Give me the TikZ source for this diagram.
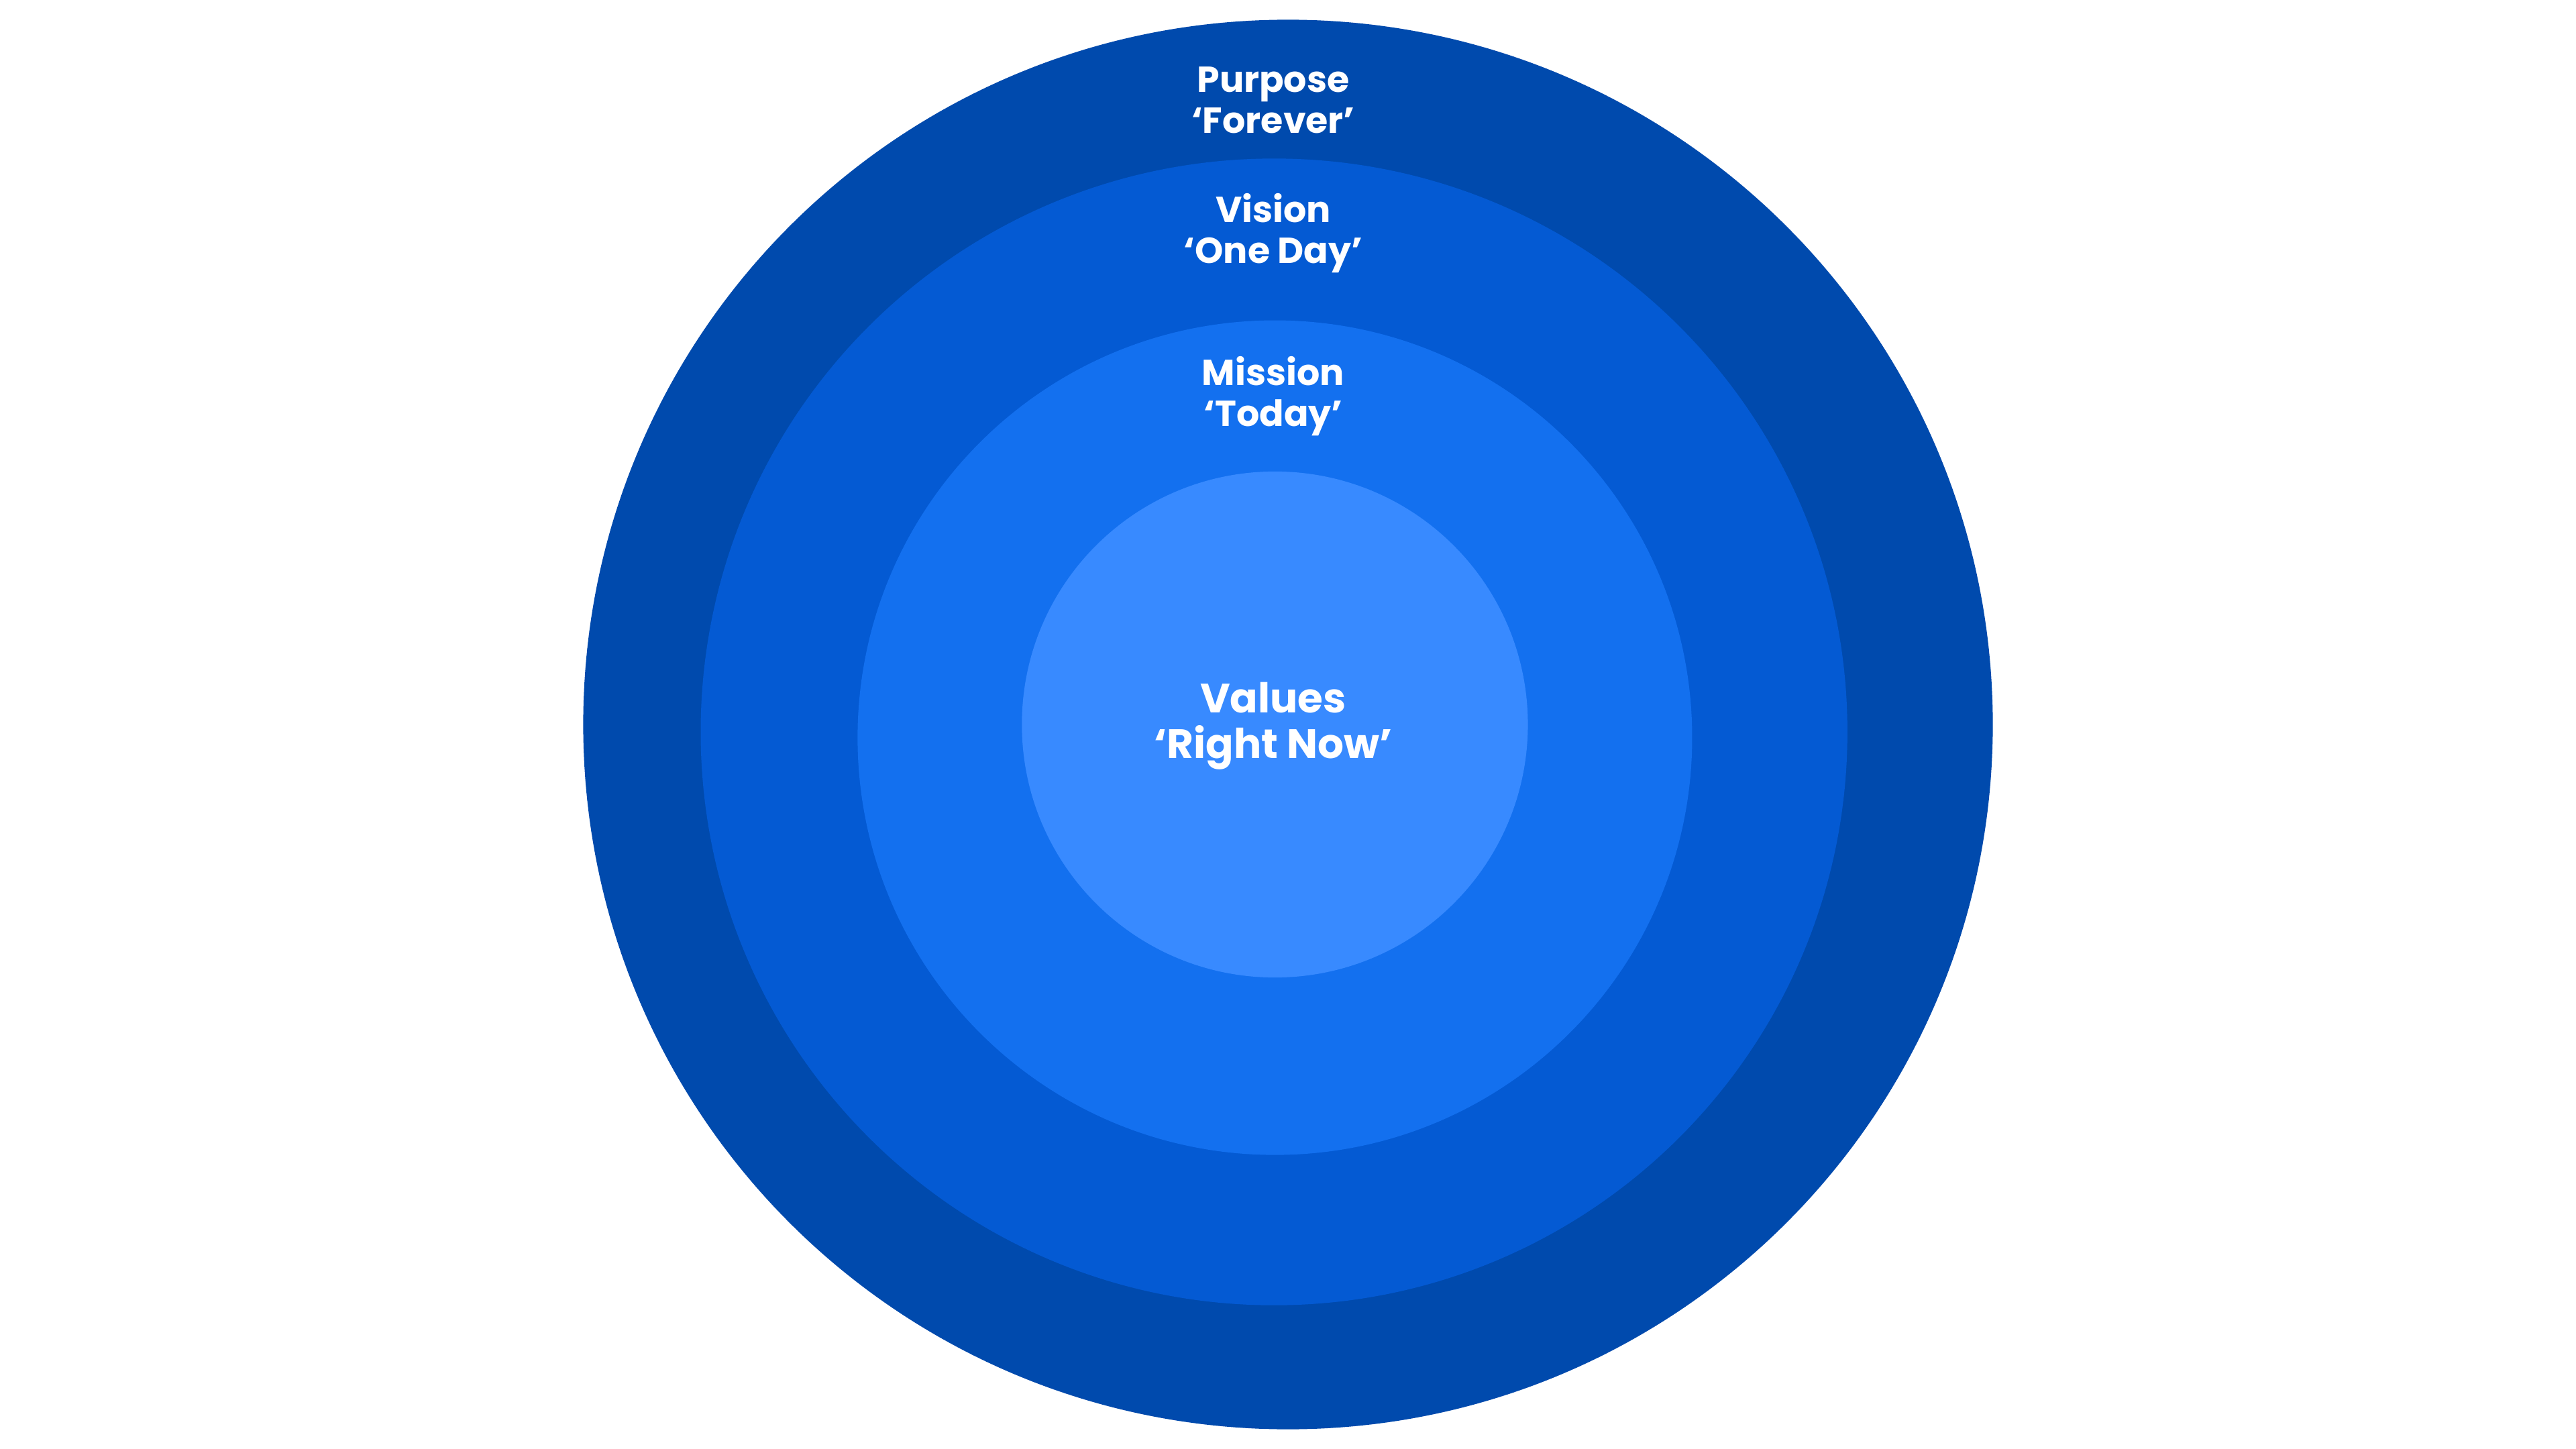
\documentclass[tikz,border=0pt]{standalone}
\usepackage{fontspec}
\setmainfont{Poppins}
\definecolor{c1}{HTML}{004AAD}
\definecolor{c2}{HTML}{045AD3}
\definecolor{c3}{HTML}{1370EF}
\definecolor{c4}{HTML}{388AFF}
\tikzset{lbl/.style={text=white,font=\fontsize{22}{25}\selectfont\bfseries,align=center,inner sep=0pt}}
\begin{document}
\begin{tikzpicture}[x=1pt,y=-1pt]
\useasboundingbox (0,0) rectangle (1568,882);
\fill[white] (0,0) rectangle (1568,882);
\fill[c1] (784,441) circle[radius=429];
\fill[c2] (775.5,445.5) circle[radius=349];
\fill[c3] (776,449) circle[radius=254];
\fill[c4] (776,441) circle[radius=154];
\node[lbl] (p) at (775,61) {Purpose\\‘Forever’};
\node[lbl] (v) at (775,142) {Vision\\‘One Day’};
\node[lbl] (m) at (775,241) {Mission\\‘Today’};
\node[lbl,font=\fontsize{25}{28}\selectfont\bfseries] (r) at (775,442) {Values\\‘Right Now’};
\end{tikzpicture}
\end{document}
